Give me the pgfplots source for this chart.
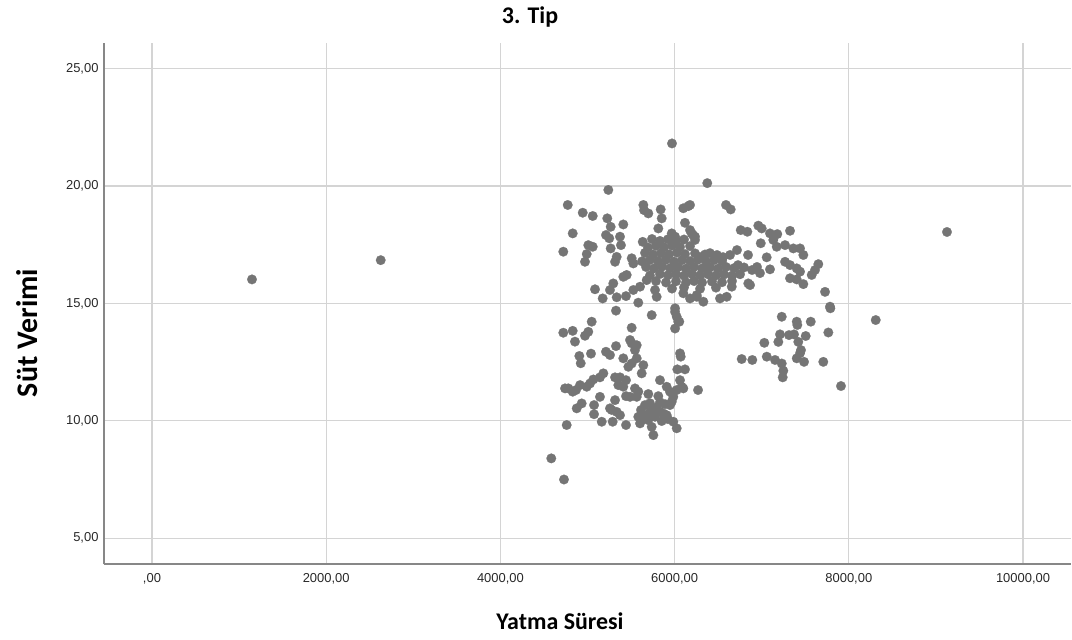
\documentclass[border=0pt]{standalone}
\usepackage{pgfplots}
\pgfplotsset{compat=1.18}
\usepackage{fontspec}
\setmainfont{Liberation Sans}
\newfontfamily\lblfont{Carlito}
\definecolor{dotgray}{RGB}{117,117,117}
\definecolor{gridgray}{RGB}{212,212,212}
\definecolor{axgray}{RGB}{135,135,135}
\definecolor{txtgray}{RGB}{40,40,40}
\begin{document}
\begin{tikzpicture}[x=1bp,y=1bp]
\useasboundingbox (0,0) rectangle (1072,640);
\begin{axis}[
  at={(104bp,75.7bp)}, anchor=south west,
  scale only axis, width=967bp, height=521.6bp,
  xmin=-551, xmax=10551, ymin=3.89, ymax=26.1,
  axis x line*=bottom, axis y line*=left,
  axis line style={draw=axgray, line width=1.6bp},
  grid=major, major grid style={draw=gridgray, line width=1.2bp},
  scaled x ticks=false, scaled y ticks=false,
  xtick={0,2000,4000,6000,8000,10000},
  xticklabels={{,00},{2000,00},{4000,00},{6000,00},{8000,00},{10000,00}},
  ytick={5,10,15,20,25},
  yticklabels={{5,00},{10,00},{15,00},{20,00},{25,00}},
  major tick length=0pt,
  tick style={draw=none},
  ticklabel style={font=\fontsize{13}{13}\selectfont, text=txtgray},
  xticklabel style={yshift=-6bp},
  yticklabel style={xshift=-2bp},
  clip=false,
]
\addplot[only marks, color=dotgray, mark=*, mark size=4.8bp, mark options={fill=dotgray, draw=dotgray, line width=0.2bp}] coordinates {
(1148,16.02)(2626,16.84)(9127,18.04)(8309,14.29)(7910,11.48)(7788,14.79)(6269,11.31)
(7230,14.43)(7402,14.22)(7409,14.08)(7563,14.22)(7765,13.76)(7210,13.68)(7313,13.65)(7371,13.68)(7505,13.61)(7030,13.32)(7191,13.36)(7420,13.36)(7451,13.01)(7440,12.88)(7402,12.66)(7486,12.51)(7707,12.51)(6770,12.63)(6892,12.59)(7058,12.73)(7153,12.59)(7230,12.44)(7248,12.13)(7241,11.85)
(6375,20.12)(6590,19.19)(6644,19.00)(6177,19.19)(6759,18.12)(6835,18.05)(6961,18.31)(7000,18.19)(7095,17.98)(7179,17.95)(7325,18.09)(6989,17.56)(7133,17.70)(7172,17.41)(7268,17.48)(7363,17.34)(7440,17.34)(7478,17.06)(7057,16.96)(7095,16.45)(7268,16.77)(7325,16.63)(7402,16.49)(7440,16.35)(7650,16.67)(7612,16.42)(7574,16.21)(7325,16.07)(7402,16.02)(7478,15.82)(7727,15.49)(7784,14.86)(6846,15.85)(6866,15.78)(6656,15.71)(6521,15.21)(6598,15.28)(6254,15.35)(6330,15.07)(6177,18.12)(6211,17.91)(6234,17.70)(6728,16.63)(6843,17.06)(6889,16.42)(6980,16.29)(6946,16.55)(6636,17.06)(6716,17.27)(6556,16.97)(6487,17.06)(6406,17.14)(6292,16.97)
(5970,21.81)(5239,19.83)(4773,19.19)(4945,18.86)(5060,18.72)(5227,18.62)(5266,18.26)(5411,18.36)(4830,17.98)(4722,17.20)(5009,17.48)(5060,17.41)(4991,17.10)(4971,16.77)(5212,17.91)(5250,17.77)(5266,17.34)(5373,17.84)(5384,17.48)(5335,16.98)(5316,16.77)(5634,17.62)(5641,19.19)(5649,18.97)(5698,18.83)(5840,19.00)(5852,18.62)(6100,19.05)(6157,19.14)(6119,18.43)(5813,18.19)(5967,17.98)(6005,17.84)(6196,17.98)(6234,17.84)(5507,16.92)(5526,16.70)(5450,16.21)(5411,16.13)(5296,15.85)(5086,15.60)
(5258,15.57)(5174,15.21)(5335,15.26)(5442,15.31)(5526,15.57)(5603,15.71)(5679,15.99)(5775,15.57)(5794,15.28)(5583,15.03)(5327,14.69)(5737,14.50)(6005,14.79)(6024,14.43)(6042,14.22)
(6100,15.43)(6177,15.21)(6254,15.28)(6005,14.64)(6054,14.22)(6005,13.93)(4722,13.75)(4830,13.83)(4971,13.62)(5009,13.79)(5048,14.22)(4856,13.37)(5507,13.96)(5488,13.44)(5507,13.30)(5565,13.22)(5545,13.01)(5327,13.18)(5212,12.94)(5258,12.80)(5040,12.86)(4906,12.76)(4922,12.45)(5411,12.66)(5565,12.66)(5507,12.44)(5469,12.30)(5641,12.37)(5622,12.02)(6062,12.87)(6070,12.73)(6031,12.19)(6119,12.19)(5182,12.02)(5143,11.85)(5067,11.76)(5029,11.59)(4991,11.45)(4914,11.52)(4868,11.31)(4780,11.38)(4742,11.38)(4830,11.24)(5316,11.85)(5373,11.85)(5442,11.73)(5354,11.52)(5411,11.45)(5545,11.38)(5583,11.24)(5565,11.02)(5442,11.05)(5488,11.02)(5698,11.14)(5813,11.05)(5832,11.73)(5909,11.45)(5947,11.24)(5985,11.02)(6062,11.73)(6081,11.45)(6024,11.31)(6100,11.38)(5967,10.81)(5947,10.67)(5143,11.02)(5075,10.67)(5075,10.28)(4933,10.74)(4876,10.53)(5316,10.88)(5278,10.46)(5335,10.38)(5373,10.24)(5258,10.53)(5583,10.17)(5603,9.89)(5737,9.74)(5756,9.39)(5163,9.96)(5289,9.96)(5442,9.82)(4761,9.82)(5985,9.96)(6024,9.68)
(4584,8.40)(4730,7.50)(5679,10.24)(5717,10.38)(5756,10.49)(5794,10.57)(5832,10.38)(5871,10.31)(5909,10.24)(5775,10.17)(5698,10.03)
(5660,10.67)(5717,10.75)(5832,10.79)(5890,10.71)(5614,10.46)(5924,10.07)(5852,9.99)(5637,10.07)
(5740,17.74)(5832,17.66)(5924,17.73)(6016,17.67)(6108,17.72)
(5694,17.38)(5786,17.45)(5878,17.39)(5970,17.46)(6062,17.40)(6177,17.44)
(5660,17.15)(5752,17.08)(5844,17.14)(5936,17.09)(6028,17.16)(6119,17.10)(6234,17.13)(6349,17.08)
(5626,16.79)(5717,16.85)(5809,16.80)(5901,16.86)(5993,16.78)(6085,16.84)(6177,16.80)(6269,16.86)(6361,16.79)(6452,16.84)(6544,16.80)
(5672,16.55)(5763,16.49)(5855,16.56)(5947,16.50)(6039,16.54)(6131,16.48)(6223,16.55)(6315,16.49)(6406,16.53)(6498,16.48)(6590,16.55)(6682,16.50)(6797,16.53)
(5717,16.19)(5832,16.25)(5924,16.20)(6016,16.24)(6108,16.18)(6200,16.25)(6292,16.20)(6383,16.24)(6475,16.19)(6567,16.23)(6659,16.18)(6751,16.24)
(5786,15.95)(5901,15.89)(6016,15.94)(6131,15.90)(6223,15.95)(6315,15.89)(6429,15.93)(6544,15.90)(6659,15.95)
(5970,15.63)(6108,15.68)(6292,15.62)(6475,15.67)
};
\end{axis}
\node[font=\lblfont\bfseries\fontsize{24}{24}\selectfont] at (530,623) {3. Tip};
\node[font=\lblfont\bfseries\fontsize{24}{24}\selectfont] at (560,19) {Yatma Süresi};
\node[font=\lblfont\bfseries\fontsize{30}{30}\selectfont, rotate=90] at (27,307) {Süt Verimi};
\end{tikzpicture}
\end{document}
